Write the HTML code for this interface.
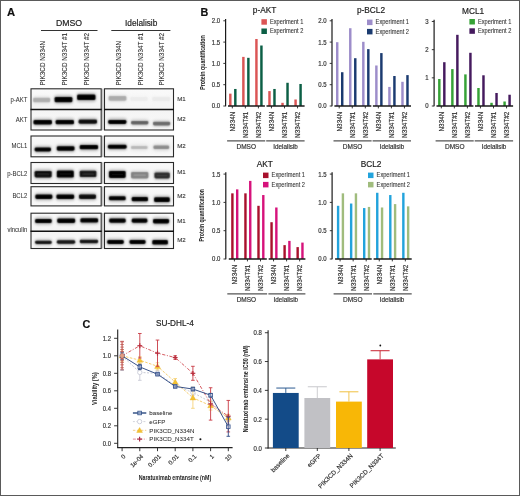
<!DOCTYPE html>
<html><head><meta charset="utf-8"><style>
html,body{margin:0;padding:0;background:#fff;}
#fig{position:relative;width:520px;height:496px;overflow:hidden;}
svg{display:block;will-change:transform;}
text{font-family:"Liberation Sans",sans-serif;}
</style></head><body><div id="fig">
<svg width="520" height="496" viewBox="0 0 520 496" font-family="Liberation Sans, sans-serif">
<defs>
<filter id="blur" x="-20%" y="-50%" width="140%" height="200%"><feConvolveMatrix order="3" kernelMatrix="1 4 1 4 16 4 1 4 1" divisor="36" edgeMode="none"/></filter>
<filter id="blur2" x="-20%" y="-80%" width="140%" height="260%"><feGaussianBlur stdDeviation="1.6"/></filter>
<linearGradient id="bg" x1="0" y1="0" x2="0" y2="1"><stop offset="0" stop-color="#fafafa"/><stop offset="0.5" stop-color="#f4f4f4"/><stop offset="1" stop-color="#f9f9f9"/></linearGradient>
</defs>
<rect x="0" y="0" width="520" height="496" fill="#fff"/>
<text x="6.90" y="15.80" font-size="11.2" text-anchor="start" fill="#111" stroke="#111" stroke-width="0.18" font-weight="bold" >A</text>
<text x="69.00" y="26.10" font-size="8.7" text-anchor="middle" fill="#222" stroke="#222" stroke-width="0.18" >DMSO</text>
<text x="141.20" y="26.00" font-size="8.3" text-anchor="middle" fill="#222" stroke="#222" stroke-width="0.18" >Idelalisib</text>
<line x1="41.00" y1="30.50" x2="97.50" y2="30.50" stroke="#333" stroke-width="1" />
<line x1="111.30" y1="30.50" x2="170.40" y2="30.50" stroke="#333" stroke-width="1" />
<text transform="translate(45.40,85.40) rotate(-90)" font-size="6.35" text-anchor="start" fill="#333" stroke="#333" stroke-width="0.1">PIK3CD N334N</text>
<text transform="translate(67.20,85.40) rotate(-90)" font-size="6.35" text-anchor="start" fill="#333" stroke="#333" stroke-width="0.1">PIK3CD N334T #1</text>
<text transform="translate(88.50,85.40) rotate(-90)" font-size="6.35" text-anchor="start" fill="#333" stroke="#333" stroke-width="0.1">PIK3CD N334T #2</text>
<text transform="translate(120.80,85.40) rotate(-90)" font-size="6.35" text-anchor="start" fill="#333" stroke="#333" stroke-width="0.1">PIK3CD N334N</text>
<text transform="translate(143.10,85.40) rotate(-90)" font-size="6.35" text-anchor="start" fill="#333" stroke="#333" stroke-width="0.1">PIK3CD N334T #1</text>
<text transform="translate(164.20,85.40) rotate(-90)" font-size="6.35" text-anchor="start" fill="#333" stroke="#333" stroke-width="0.1">PIK3CD N334T #2</text>
<rect x="31.00" y="88.80" width="70.20" height="41.20" fill="url(#bg)" stroke="#2a2a2a" stroke-width="1.1"/>
<line x1="30.50" y1="109.50" x2="101.70" y2="109.50" stroke="#111" stroke-width="1.4" />
<rect x="104.50" y="88.80" width="69.00" height="41.20" fill="url(#bg)" stroke="#2a2a2a" stroke-width="1.1"/>
<line x1="104.00" y1="109.50" x2="174.00" y2="109.50" stroke="#111" stroke-width="1.4" />
<line x1="102.90" y1="88.60" x2="102.90" y2="130.20" stroke="#a8a8a8" stroke-width="1.0" />
<rect x="31.00" y="136.00" width="70.20" height="20.80" fill="url(#bg)" stroke="#2a2a2a" stroke-width="1.1"/>
<rect x="104.50" y="136.00" width="69.00" height="20.80" fill="url(#bg)" stroke="#2a2a2a" stroke-width="1.1"/>
<line x1="102.90" y1="135.80" x2="102.90" y2="157.00" stroke="#a8a8a8" stroke-width="1.0" />
<rect x="31.00" y="162.50" width="70.20" height="21.00" fill="url(#bg)" stroke="#2a2a2a" stroke-width="1.1"/>
<rect x="104.50" y="162.50" width="69.00" height="21.00" fill="url(#bg)" stroke="#2a2a2a" stroke-width="1.1"/>
<line x1="102.90" y1="162.30" x2="102.90" y2="183.70" stroke="#a8a8a8" stroke-width="1.0" />
<rect x="31.00" y="186.70" width="70.20" height="19.20" fill="url(#bg)" stroke="#2a2a2a" stroke-width="1.1"/>
<rect x="104.50" y="186.70" width="69.00" height="19.20" fill="url(#bg)" stroke="#2a2a2a" stroke-width="1.1"/>
<line x1="102.90" y1="186.50" x2="102.90" y2="206.10" stroke="#a8a8a8" stroke-width="1.0" />
<rect x="31.00" y="213.20" width="70.20" height="35.30" fill="url(#bg)" stroke="#2a2a2a" stroke-width="1.1"/>
<line x1="30.50" y1="231.20" x2="101.70" y2="231.20" stroke="#111" stroke-width="1.4" />
<rect x="104.50" y="213.20" width="69.00" height="35.30" fill="url(#bg)" stroke="#2a2a2a" stroke-width="1.1"/>
<line x1="104.00" y1="231.20" x2="174.00" y2="231.20" stroke="#111" stroke-width="1.4" />
<line x1="102.90" y1="213.00" x2="102.90" y2="248.70" stroke="#a8a8a8" stroke-width="1.0" />
<text x="27.30" y="102.20" font-size="6.6" text-anchor="end" fill="#333" stroke="#333" stroke-width="0.06" textLength="16.86" lengthAdjust="spacingAndGlyphs" >p-AKT</text>
<text x="27.30" y="122.40" font-size="6.6" text-anchor="end" fill="#333" stroke="#333" stroke-width="0.06" textLength="11.57" lengthAdjust="spacingAndGlyphs" >AKT</text>
<text x="27.30" y="148.40" font-size="6.6" text-anchor="end" fill="#333" stroke="#333" stroke-width="0.06" textLength="15.87" lengthAdjust="spacingAndGlyphs" >MCL1</text>
<text x="27.30" y="176.00" font-size="6.6" text-anchor="end" fill="#333" stroke="#333" stroke-width="0.06" textLength="20.17" lengthAdjust="spacingAndGlyphs" >p-BCL2</text>
<text x="27.30" y="198.40" font-size="6.6" text-anchor="end" fill="#333" stroke="#333" stroke-width="0.06" textLength="14.88" lengthAdjust="spacingAndGlyphs" >BCL2</text>
<text x="27.30" y="232.00" font-size="6.6" text-anchor="end" fill="#333" stroke="#333" stroke-width="0.06" textLength="19.84" lengthAdjust="spacingAndGlyphs" >vinculin</text>
<text x="177.20" y="100.90" font-size="6.1" text-anchor="start" fill="#333" stroke="#333" stroke-width="0.1" >M1</text>
<text x="177.20" y="121.40" font-size="6.1" text-anchor="start" fill="#333" stroke="#333" stroke-width="0.1" >M2</text>
<text x="177.20" y="147.80" font-size="6.1" text-anchor="start" fill="#333" stroke="#333" stroke-width="0.1" >M2</text>
<text x="177.20" y="174.20" font-size="6.1" text-anchor="start" fill="#333" stroke="#333" stroke-width="0.1" >M1</text>
<text x="177.20" y="197.90" font-size="6.1" text-anchor="start" fill="#333" stroke="#333" stroke-width="0.1" >M2</text>
<text x="177.20" y="222.50" font-size="6.1" text-anchor="start" fill="#333" stroke="#333" stroke-width="0.1" >M1</text>
<text x="177.20" y="241.50" font-size="6.1" text-anchor="start" fill="#333" stroke="#333" stroke-width="0.1" >M2</text>
<g filter="url(#blur2)" opacity="0.3">
<rect x="32.80" y="96.40" width="17.70" height="7.20" rx="2" fill="rgb(175,175,175)"/>
<rect x="54.30" y="95.60" width="18.40" height="8.00" rx="2" fill="rgb(0,0,0)"/>
<rect x="76.80" y="93.20" width="19.00" height="8.20" rx="2" fill="rgb(0,0,0)"/>
<rect x="108.30" y="94.80" width="18.40" height="7.20" rx="2" fill="rgb(172,172,172)"/>
<rect x="130.00" y="95.60" width="18.00" height="6.60" rx="2" fill="rgb(236,236,236)"/>
<rect x="152.00" y="95.80" width="18.50" height="6.60" rx="2" fill="rgb(234,234,234)"/>
<rect x="33.10" y="118.80" width="19.20" height="7.00" rx="2" fill="rgb(0,0,0)"/>
<rect x="55.30" y="118.60" width="19.00" height="7.00" rx="2" fill="rgb(5,5,5)"/>
<rect x="78.30" y="118.20" width="19.00" height="6.80" rx="2" fill="rgb(15,15,15)"/>
<rect x="107.90" y="118.60" width="18.80" height="6.60" rx="2" fill="rgb(0,0,0)"/>
<rect x="130.70" y="119.60" width="18.00" height="6.20" rx="2" fill="rgb(100,100,100)"/>
<rect x="152.70" y="120.40" width="17.80" height="6.40" rx="2" fill="rgb(108,108,108)"/>
<rect x="34.30" y="146.20" width="17.00" height="6.50" rx="2" fill="rgb(0,0,0)"/>
<rect x="56.50" y="144.90" width="18.30" height="7.10" rx="2" fill="rgb(0,0,0)"/>
<rect x="79.40" y="143.80" width="19.00" height="6.80" rx="2" fill="rgb(0,0,0)"/>
<rect x="107.60" y="143.50" width="19.30" height="6.50" rx="2" fill="rgb(0,0,0)"/>
<rect x="130.60" y="144.60" width="17.30" height="5.80" rx="2" fill="rgb(185,185,185)"/>
<rect x="153.10" y="144.20" width="16.40" height="6.20" rx="2" fill="rgb(140,140,140)"/>
<rect x="34.30" y="169.60" width="17.70" height="9.20" rx="2" fill="rgb(12,12,12)"/>
<rect x="56.50" y="169.20" width="17.60" height="9.70" rx="2" fill="rgb(0,0,0)"/>
<rect x="79.40" y="169.50" width="17.30" height="8.90" rx="2" fill="rgb(20,20,20)"/>
<rect x="108.60" y="169.70" width="17.40" height="9.50" rx="2" fill="rgb(0,0,0)"/>
<rect x="130.70" y="170.70" width="18.00" height="9.00" rx="2" fill="rgb(130,130,130)"/>
<rect x="154.10" y="171.10" width="16.00" height="8.70" rx="2" fill="rgb(45,45,45)"/>
<rect x="35.00" y="193.20" width="17.70" height="7.00" rx="2" fill="rgb(0,0,0)"/>
<rect x="56.10" y="193.20" width="18.40" height="7.00" rx="2" fill="rgb(5,5,5)"/>
<rect x="78.70" y="193.20" width="17.60" height="7.00" rx="2" fill="rgb(8,8,8)"/>
<rect x="108.60" y="195.00" width="17.40" height="6.60" rx="2" fill="rgb(5,5,5)"/>
<rect x="131.40" y="195.60" width="16.90" height="7.00" rx="2" fill="rgb(0,0,0)"/>
<rect x="153.80" y="196.00" width="16.30" height="7.40" rx="2" fill="rgb(0,0,0)"/>
<rect x="34.80" y="217.60" width="17.20" height="6.80" rx="2" fill="rgb(0,0,0)"/>
<rect x="56.90" y="217.30" width="18.60" height="6.90" rx="2" fill="rgb(0,0,0)"/>
<rect x="80.10" y="216.90" width="18.30" height="7.00" rx="2" fill="rgb(0,0,0)"/>
<rect x="108.90" y="217.20" width="17.10" height="6.80" rx="2" fill="rgb(0,0,0)"/>
<rect x="131.40" y="217.20" width="16.30" height="6.80" rx="2" fill="rgb(0,0,0)"/>
<rect x="152.70" y="217.60" width="16.70" height="7.10" rx="2" fill="rgb(0,0,0)"/>
<rect x="34.80" y="239.40" width="17.20" height="5.90" rx="2" fill="rgb(20,20,20)"/>
<rect x="56.50" y="239.00" width="19.00" height="6.00" rx="2" fill="rgb(22,22,22)"/>
<rect x="79.50" y="238.50" width="18.90" height="6.00" rx="2" fill="rgb(24,24,24)"/>
<rect x="106.90" y="238.80" width="17.20" height="6.50" rx="2" fill="rgb(0,0,0)"/>
<rect x="129.20" y="238.80" width="16.70" height="6.50" rx="2" fill="rgb(0,0,0)"/>
<rect x="152.00" y="238.80" width="16.20" height="7.10" rx="2" fill="rgb(0,0,0)"/>
</g>
<g filter="url(#blur)">
<rect x="33.10" y="97.70" width="17.10" height="4.60" rx="1.6" ry="1.40" fill="rgb(175,175,175)"/>
<rect x="54.60" y="96.90" width="17.80" height="5.40" rx="1.6" ry="1.40" fill="rgb(0,0,0)"/>
<rect x="77.10" y="94.50" width="18.40" height="5.60" rx="1.6" ry="1.40" fill="rgb(0,0,0)"/>
<rect x="108.60" y="96.10" width="17.80" height="4.60" rx="1.6" ry="1.40" fill="rgb(172,172,172)"/>
<rect x="130.30" y="96.90" width="17.40" height="4.00" rx="1.6" ry="1.40" fill="rgb(236,236,236)"/>
<rect x="152.30" y="97.10" width="17.90" height="4.00" rx="1.6" ry="1.40" fill="rgb(234,234,234)"/>
<rect x="33.40" y="120.10" width="18.60" height="4.40" rx="1.6" ry="1.40" fill="rgb(0,0,0)"/>
<rect x="55.60" y="119.90" width="18.40" height="4.40" rx="1.6" ry="1.40" fill="rgb(5,5,5)"/>
<rect x="78.60" y="119.50" width="18.40" height="4.20" rx="1.6" ry="1.40" fill="rgb(15,15,15)"/>
<rect x="108.20" y="119.90" width="18.20" height="4.00" rx="1.6" ry="1.40" fill="rgb(0,0,0)"/>
<rect x="131.00" y="120.90" width="17.40" height="3.60" rx="1.6" ry="1.40" fill="rgb(100,100,100)"/>
<rect x="153.00" y="121.70" width="17.20" height="3.80" rx="1.6" ry="1.40" fill="rgb(108,108,108)"/>
<rect x="34.60" y="147.50" width="16.40" height="3.90" rx="1.6" ry="1.40" fill="rgb(0,0,0)"/>
<rect x="56.80" y="146.20" width="17.70" height="4.50" rx="1.6" ry="1.40" fill="rgb(0,0,0)"/>
<rect x="79.70" y="145.10" width="18.40" height="4.20" rx="1.6" ry="1.40" fill="rgb(0,0,0)"/>
<rect x="107.90" y="144.80" width="18.70" height="3.90" rx="1.6" ry="1.40" fill="rgb(0,0,0)"/>
<rect x="130.90" y="145.90" width="16.70" height="3.20" rx="1.6" ry="1.40" fill="rgb(185,185,185)"/>
<rect x="153.40" y="145.50" width="15.80" height="3.60" rx="1.6" ry="1.40" fill="rgb(140,140,140)"/>
<rect x="34.60" y="170.90" width="17.10" height="6.60" rx="1.6" ry="1.40" fill="rgb(12,12,12)"/>
<rect x="56.80" y="170.50" width="17.00" height="7.10" rx="1.6" ry="1.40" fill="rgb(0,0,0)"/>
<rect x="79.70" y="170.80" width="16.70" height="6.30" rx="1.6" ry="1.40" fill="rgb(20,20,20)"/>
<rect x="108.90" y="171.00" width="16.80" height="6.90" rx="1.6" ry="1.40" fill="rgb(0,0,0)"/>
<rect x="131.00" y="172.00" width="17.40" height="6.40" rx="1.6" ry="1.40" fill="rgb(130,130,130)"/>
<rect x="154.40" y="172.40" width="15.40" height="6.10" rx="1.6" ry="1.40" fill="rgb(45,45,45)"/>
<rect x="35.30" y="194.50" width="17.10" height="4.40" rx="1.6" ry="1.40" fill="rgb(0,0,0)"/>
<rect x="56.40" y="194.50" width="17.80" height="4.40" rx="1.6" ry="1.40" fill="rgb(5,5,5)"/>
<rect x="79.00" y="194.50" width="17.00" height="4.40" rx="1.6" ry="1.40" fill="rgb(8,8,8)"/>
<rect x="108.90" y="196.30" width="16.80" height="4.00" rx="1.6" ry="1.40" fill="rgb(5,5,5)"/>
<rect x="131.70" y="196.90" width="16.30" height="4.40" rx="1.6" ry="1.40" fill="rgb(0,0,0)"/>
<rect x="154.10" y="197.30" width="15.70" height="4.80" rx="1.6" ry="1.40" fill="rgb(0,0,0)"/>
<rect x="35.10" y="218.90" width="16.60" height="4.20" rx="1.6" ry="1.40" fill="rgb(0,0,0)"/>
<rect x="57.20" y="218.60" width="18.00" height="4.30" rx="1.6" ry="1.40" fill="rgb(0,0,0)"/>
<rect x="80.40" y="218.20" width="17.70" height="4.40" rx="1.6" ry="1.40" fill="rgb(0,0,0)"/>
<rect x="109.20" y="218.50" width="16.50" height="4.20" rx="1.6" ry="1.40" fill="rgb(0,0,0)"/>
<rect x="131.70" y="218.50" width="15.70" height="4.20" rx="1.6" ry="1.40" fill="rgb(0,0,0)"/>
<rect x="153.00" y="218.90" width="16.10" height="4.50" rx="1.6" ry="1.40" fill="rgb(0,0,0)"/>
<rect x="35.10" y="240.70" width="16.60" height="3.30" rx="1.6" ry="1.40" fill="rgb(20,20,20)"/>
<rect x="56.80" y="240.30" width="18.40" height="3.40" rx="1.6" ry="1.40" fill="rgb(22,22,22)"/>
<rect x="79.80" y="239.80" width="18.30" height="3.40" rx="1.6" ry="1.40" fill="rgb(24,24,24)"/>
<rect x="107.20" y="240.10" width="16.60" height="3.90" rx="1.6" ry="1.40" fill="rgb(0,0,0)"/>
<rect x="129.50" y="240.10" width="16.10" height="3.90" rx="1.6" ry="1.40" fill="rgb(0,0,0)"/>
<rect x="152.30" y="240.10" width="15.60" height="4.50" rx="1.6" ry="1.40" fill="rgb(0,0,0)"/>
</g>
<g filter="url(#blur)">
<rect x="37.00" y="173.60" width="12.50" height="1.20" rx="1" fill="rgb(42,42,42)"/>
<rect x="59.50" y="173.40" width="12.00" height="1.20" rx="1" fill="rgb(22,22,22)"/>
<rect x="82.00" y="173.50" width="12.30" height="1.20" rx="1" fill="rgb(50,50,50)"/>
<rect x="111.50" y="173.80" width="12.00" height="1.20" rx="1" fill="rgb(14,14,14)"/>
<rect x="133.50" y="174.60" width="12.50" height="1.20" rx="1" fill="rgb(158,158,158)"/>
<rect x="156.50" y="175.00" width="11.00" height="1.20" rx="1" fill="rgb(62,62,62)"/>
</g>
<text x="200.60" y="16.20" font-size="10.8" text-anchor="start" fill="#111" stroke="#111" stroke-width="0.18" font-weight="bold" >B</text>
<line x1="225.60" y1="19.00" x2="225.60" y2="106.30" stroke="#1a1a1a" stroke-width="1.2" />
<line x1="223.30" y1="106.00" x2="225.60" y2="106.00" stroke="#222" stroke-width="0.9" />
<text x="220.20" y="108.40" font-size="6.6" text-anchor="end" fill="#333" stroke="#333" stroke-width="0.18" textLength="8.34" lengthAdjust="spacingAndGlyphs" >0.0</text>
<line x1="223.30" y1="84.70" x2="225.60" y2="84.70" stroke="#222" stroke-width="0.9" />
<text x="220.20" y="87.10" font-size="6.6" text-anchor="end" fill="#333" stroke="#333" stroke-width="0.18" textLength="8.34" lengthAdjust="spacingAndGlyphs" >0.5</text>
<line x1="223.30" y1="63.40" x2="225.60" y2="63.40" stroke="#222" stroke-width="0.9" />
<text x="220.20" y="65.80" font-size="6.6" text-anchor="end" fill="#333" stroke="#333" stroke-width="0.18" textLength="8.34" lengthAdjust="spacingAndGlyphs" >1.0</text>
<line x1="223.30" y1="42.10" x2="225.60" y2="42.10" stroke="#222" stroke-width="0.9" />
<text x="220.20" y="44.50" font-size="6.6" text-anchor="end" fill="#333" stroke="#333" stroke-width="0.18" textLength="8.34" lengthAdjust="spacingAndGlyphs" >1.5</text>
<line x1="223.30" y1="20.80" x2="225.60" y2="20.80" stroke="#222" stroke-width="0.9" />
<text x="220.20" y="23.20" font-size="6.6" text-anchor="end" fill="#333" stroke="#333" stroke-width="0.18" textLength="8.34" lengthAdjust="spacingAndGlyphs" >2.0</text>
<rect x="229.10" y="93.65" width="2.45" height="12.35" fill="#db5555" />
<rect x="234.10" y="88.96" width="2.45" height="17.04" fill="#0c5f45" />
<line x1="232.30" y1="106.00" x2="232.30" y2="108.40" stroke="#222" stroke-width="0.9" />
<text transform="translate(235.00,111.60) rotate(-90)" font-size="6.4" text-anchor="end" fill="#333" stroke="#333" stroke-width="0.18">N334N</text>
<rect x="242.15" y="56.88" width="2.45" height="49.12" fill="#db5555" />
<rect x="247.15" y="57.82" width="2.45" height="48.18" fill="#0c5f45" />
<line x1="245.35" y1="106.00" x2="245.35" y2="108.40" stroke="#222" stroke-width="0.9" />
<text transform="translate(248.05,111.60) rotate(-90)" font-size="6.4" text-anchor="end" fill="#333" stroke="#333" stroke-width="0.18">N334T#1</text>
<rect x="255.20" y="38.99" width="2.45" height="67.01" fill="#db5555" />
<rect x="260.20" y="45.51" width="2.45" height="60.49" fill="#0c5f45" />
<line x1="258.40" y1="106.00" x2="258.40" y2="108.40" stroke="#222" stroke-width="0.9" />
<text transform="translate(261.10,111.60) rotate(-90)" font-size="6.4" text-anchor="end" fill="#333" stroke="#333" stroke-width="0.18">N334T#2</text>
<rect x="268.25" y="91.09" width="2.45" height="14.91" fill="#db5555" />
<rect x="273.25" y="88.96" width="2.45" height="17.04" fill="#0c5f45" />
<line x1="271.45" y1="106.00" x2="271.45" y2="108.40" stroke="#222" stroke-width="0.9" />
<text transform="translate(274.15,111.60) rotate(-90)" font-size="6.4" text-anchor="end" fill="#333" stroke="#333" stroke-width="0.18">N334N</text>
<rect x="281.30" y="102.81" width="2.45" height="3.19" fill="#db5555" />
<rect x="286.30" y="82.78" width="2.45" height="23.22" fill="#0c5f45" />
<line x1="284.50" y1="106.00" x2="284.50" y2="108.40" stroke="#222" stroke-width="0.9" />
<text transform="translate(287.20,111.60) rotate(-90)" font-size="6.4" text-anchor="end" fill="#333" stroke="#333" stroke-width="0.18">N334T#1</text>
<rect x="294.35" y="99.48" width="2.45" height="6.52" fill="#db5555" />
<rect x="299.35" y="83.98" width="2.45" height="22.02" fill="#0c5f45" />
<line x1="297.55" y1="106.00" x2="297.55" y2="108.40" stroke="#222" stroke-width="0.9" />
<text transform="translate(300.25,111.60) rotate(-90)" font-size="6.4" text-anchor="end" fill="#333" stroke="#333" stroke-width="0.18">N334T#2</text>
<line x1="228.00" y1="106.00" x2="264.90" y2="106.00" stroke="#1a1a1a" stroke-width="1.3" />
<line x1="266.50" y1="106.00" x2="304.60" y2="106.00" stroke="#1a1a1a" stroke-width="1.3" />
<line x1="227.10" y1="140.80" x2="265.20" y2="140.80" stroke="#555" stroke-width="1.25" />
<line x1="266.20" y1="140.80" x2="304.60" y2="140.80" stroke="#555" stroke-width="1.25" />
<text x="246.20" y="149.00" font-size="6.5" text-anchor="middle" fill="#333" stroke="#333" stroke-width="0.18" >DMSO</text>
<text x="285.60" y="149.00" font-size="6.3" text-anchor="middle" fill="#333" stroke="#333" stroke-width="0.18" >Idelalisib</text>
<text x="264.60" y="13.40" font-size="8.3" text-anchor="middle" fill="#222" stroke="#222" stroke-width="0.18" >p-AKT</text>
<rect x="261.40" y="19.20" width="5.50" height="5.50" fill="#db5555" />
<text x="270.00" y="23.90" font-size="6.4" text-anchor="start" fill="#333" stroke="#333" stroke-width="0.08" textLength="33.4" lengthAdjust="spacingAndGlyphs" >Experiment 1</text>
<rect x="261.40" y="28.50" width="5.50" height="5.50" fill="#0c5f45" />
<text x="270.00" y="33.20" font-size="6.4" text-anchor="start" fill="#333" stroke="#333" stroke-width="0.08" textLength="33.4" lengthAdjust="spacingAndGlyphs" >Experiment 2</text>
<line x1="332.00" y1="19.00" x2="332.00" y2="106.30" stroke="#1a1a1a" stroke-width="1.2" />
<line x1="329.70" y1="106.00" x2="332.00" y2="106.00" stroke="#222" stroke-width="0.9" />
<text x="326.60" y="108.40" font-size="6.6" text-anchor="end" fill="#333" stroke="#333" stroke-width="0.18" textLength="8.34" lengthAdjust="spacingAndGlyphs" >0.0</text>
<line x1="329.70" y1="84.70" x2="332.00" y2="84.70" stroke="#222" stroke-width="0.9" />
<text x="326.60" y="87.10" font-size="6.6" text-anchor="end" fill="#333" stroke="#333" stroke-width="0.18" textLength="8.34" lengthAdjust="spacingAndGlyphs" >0.5</text>
<line x1="329.70" y1="63.40" x2="332.00" y2="63.40" stroke="#222" stroke-width="0.9" />
<text x="326.60" y="65.80" font-size="6.6" text-anchor="end" fill="#333" stroke="#333" stroke-width="0.18" textLength="8.34" lengthAdjust="spacingAndGlyphs" >1.0</text>
<line x1="329.70" y1="42.10" x2="332.00" y2="42.10" stroke="#222" stroke-width="0.9" />
<text x="326.60" y="44.50" font-size="6.6" text-anchor="end" fill="#333" stroke="#333" stroke-width="0.18" textLength="8.34" lengthAdjust="spacingAndGlyphs" >1.5</text>
<line x1="329.70" y1="20.80" x2="332.00" y2="20.80" stroke="#222" stroke-width="0.9" />
<text x="326.60" y="23.20" font-size="6.6" text-anchor="end" fill="#333" stroke="#333" stroke-width="0.18" textLength="8.34" lengthAdjust="spacingAndGlyphs" >2.0</text>
<rect x="336.00" y="42.19" width="2.45" height="63.81" fill="#9d8dca" />
<rect x="341.00" y="72.22" width="2.45" height="33.78" fill="#1b3b70" />
<line x1="339.20" y1="106.00" x2="339.20" y2="108.40" stroke="#222" stroke-width="0.9" />
<text transform="translate(341.90,111.60) rotate(-90)" font-size="6.4" text-anchor="end" fill="#333" stroke="#333" stroke-width="0.18">N334N</text>
<rect x="349.05" y="28.21" width="2.45" height="77.79" fill="#9d8dca" />
<rect x="354.05" y="58.20" width="2.45" height="47.80" fill="#1b3b70" />
<line x1="352.25" y1="106.00" x2="352.25" y2="108.40" stroke="#222" stroke-width="0.9" />
<text transform="translate(354.95,111.60) rotate(-90)" font-size="6.4" text-anchor="end" fill="#333" stroke="#333" stroke-width="0.18">N334T#1</text>
<rect x="362.10" y="41.80" width="2.45" height="64.20" fill="#9d8dca" />
<rect x="367.10" y="49.13" width="2.45" height="56.87" fill="#1b3b70" />
<line x1="365.30" y1="106.00" x2="365.30" y2="108.40" stroke="#222" stroke-width="0.9" />
<text transform="translate(368.00,111.60) rotate(-90)" font-size="6.4" text-anchor="end" fill="#333" stroke="#333" stroke-width="0.18">N334T#2</text>
<rect x="375.15" y="65.49" width="2.45" height="40.51" fill="#9d8dca" />
<rect x="380.15" y="53.09" width="2.45" height="52.91" fill="#1b3b70" />
<line x1="378.35" y1="106.00" x2="378.35" y2="108.40" stroke="#222" stroke-width="0.9" />
<text transform="translate(381.05,111.60) rotate(-90)" font-size="6.4" text-anchor="end" fill="#333" stroke="#333" stroke-width="0.18">N334N</text>
<rect x="388.20" y="86.92" width="2.45" height="19.08" fill="#9d8dca" />
<rect x="393.20" y="76.01" width="2.45" height="29.99" fill="#1b3b70" />
<line x1="391.40" y1="106.00" x2="391.40" y2="108.40" stroke="#222" stroke-width="0.9" />
<text transform="translate(394.10,111.60) rotate(-90)" font-size="6.4" text-anchor="end" fill="#333" stroke="#333" stroke-width="0.18">N334T#1</text>
<rect x="401.25" y="81.80" width="2.45" height="24.20" fill="#9d8dca" />
<rect x="406.25" y="75.11" width="2.45" height="30.89" fill="#1b3b70" />
<line x1="404.45" y1="106.00" x2="404.45" y2="108.40" stroke="#222" stroke-width="0.9" />
<text transform="translate(407.15,111.60) rotate(-90)" font-size="6.4" text-anchor="end" fill="#333" stroke="#333" stroke-width="0.18">N334T#2</text>
<line x1="334.40" y1="106.00" x2="371.30" y2="106.00" stroke="#1a1a1a" stroke-width="1.3" />
<line x1="372.90" y1="106.00" x2="411.00" y2="106.00" stroke="#1a1a1a" stroke-width="1.3" />
<line x1="333.50" y1="140.80" x2="371.60" y2="140.80" stroke="#555" stroke-width="1.25" />
<line x1="372.60" y1="140.80" x2="411.00" y2="140.80" stroke="#555" stroke-width="1.25" />
<text x="352.60" y="149.00" font-size="6.5" text-anchor="middle" fill="#333" stroke="#333" stroke-width="0.18" >DMSO</text>
<text x="392.00" y="149.00" font-size="6.3" text-anchor="middle" fill="#333" stroke="#333" stroke-width="0.18" >Idelalisib</text>
<text x="371.00" y="13.40" font-size="8.3" text-anchor="middle" fill="#222" stroke="#222" stroke-width="0.18" >p-BCL2</text>
<rect x="367.00" y="19.60" width="5.50" height="5.50" fill="#9d8dca" />
<text x="375.60" y="24.30" font-size="6.4" text-anchor="start" fill="#333" stroke="#333" stroke-width="0.08" textLength="33.4" lengthAdjust="spacingAndGlyphs" >Experiment 1</text>
<rect x="367.00" y="28.90" width="5.50" height="5.50" fill="#1b3b70" />
<text x="375.60" y="33.60" font-size="6.4" text-anchor="start" fill="#333" stroke="#333" stroke-width="0.08" textLength="33.4" lengthAdjust="spacingAndGlyphs" >Experiment 2</text>
<line x1="434.10" y1="19.69" x2="434.10" y2="106.30" stroke="#1a1a1a" stroke-width="1.2" />
<line x1="431.80" y1="106.00" x2="434.10" y2="106.00" stroke="#222" stroke-width="0.9" />
<text x="428.70" y="108.40" font-size="6.6" text-anchor="end" fill="#333" stroke="#333" stroke-width="0.18" textLength="3.34" lengthAdjust="spacingAndGlyphs" >0</text>
<line x1="431.80" y1="77.83" x2="434.10" y2="77.83" stroke="#222" stroke-width="0.9" />
<text x="428.70" y="80.23" font-size="6.6" text-anchor="end" fill="#333" stroke="#333" stroke-width="0.18" textLength="3.34" lengthAdjust="spacingAndGlyphs" >1</text>
<line x1="431.80" y1="49.66" x2="434.10" y2="49.66" stroke="#222" stroke-width="0.9" />
<text x="428.70" y="52.06" font-size="6.6" text-anchor="end" fill="#333" stroke="#333" stroke-width="0.18" textLength="3.34" lengthAdjust="spacingAndGlyphs" >2</text>
<line x1="431.80" y1="21.49" x2="434.10" y2="21.49" stroke="#222" stroke-width="0.9" />
<text x="428.70" y="23.89" font-size="6.6" text-anchor="end" fill="#333" stroke="#333" stroke-width="0.18" textLength="3.34" lengthAdjust="spacingAndGlyphs" >3</text>
<rect x="438.10" y="79.01" width="2.45" height="26.99" fill="#36a236" />
<rect x="443.10" y="62.20" width="2.45" height="43.80" fill="#451a5e" />
<line x1="441.30" y1="106.00" x2="441.30" y2="108.40" stroke="#222" stroke-width="0.9" />
<text transform="translate(444.00,111.60) rotate(-90)" font-size="6.4" text-anchor="end" fill="#333" stroke="#333" stroke-width="0.18">N334N</text>
<rect x="451.15" y="69.10" width="2.45" height="36.90" fill="#36a236" />
<rect x="456.15" y="34.81" width="2.45" height="71.19" fill="#451a5e" />
<line x1="454.35" y1="106.00" x2="454.35" y2="108.40" stroke="#222" stroke-width="0.9" />
<text transform="translate(457.05,111.60) rotate(-90)" font-size="6.4" text-anchor="end" fill="#333" stroke="#333" stroke-width="0.18">N334T#1</text>
<rect x="464.20" y="74.39" width="2.45" height="31.61" fill="#36a236" />
<rect x="469.20" y="52.79" width="2.45" height="53.21" fill="#451a5e" />
<line x1="467.40" y1="106.00" x2="467.40" y2="108.40" stroke="#222" stroke-width="0.9" />
<text transform="translate(470.10,111.60) rotate(-90)" font-size="6.4" text-anchor="end" fill="#333" stroke="#333" stroke-width="0.18">N334T#2</text>
<rect x="477.25" y="88.00" width="2.45" height="18.00" fill="#36a236" />
<rect x="482.25" y="75.29" width="2.45" height="30.71" fill="#451a5e" />
<line x1="480.45" y1="106.00" x2="480.45" y2="108.40" stroke="#222" stroke-width="0.9" />
<text transform="translate(483.15,111.60) rotate(-90)" font-size="6.4" text-anchor="end" fill="#333" stroke="#333" stroke-width="0.18">N334N</text>
<rect x="490.30" y="102.79" width="2.45" height="3.21" fill="#36a236" />
<rect x="495.30" y="92.99" width="2.45" height="13.01" fill="#451a5e" />
<line x1="493.50" y1="106.00" x2="493.50" y2="108.40" stroke="#222" stroke-width="0.9" />
<text transform="translate(496.20,111.60) rotate(-90)" font-size="6.4" text-anchor="end" fill="#333" stroke="#333" stroke-width="0.18">N334T#1</text>
<rect x="503.35" y="101.49" width="2.45" height="4.51" fill="#36a236" />
<rect x="508.35" y="94.73" width="2.45" height="11.27" fill="#451a5e" />
<line x1="506.55" y1="106.00" x2="506.55" y2="108.40" stroke="#222" stroke-width="0.9" />
<text transform="translate(509.25,111.60) rotate(-90)" font-size="6.4" text-anchor="end" fill="#333" stroke="#333" stroke-width="0.18">N334T#2</text>
<line x1="436.50" y1="106.00" x2="473.40" y2="106.00" stroke="#1a1a1a" stroke-width="1.3" />
<line x1="475.00" y1="106.00" x2="513.10" y2="106.00" stroke="#1a1a1a" stroke-width="1.3" />
<line x1="435.60" y1="140.80" x2="473.70" y2="140.80" stroke="#555" stroke-width="1.25" />
<line x1="474.70" y1="140.80" x2="513.10" y2="140.80" stroke="#555" stroke-width="1.25" />
<text x="454.70" y="149.00" font-size="6.5" text-anchor="middle" fill="#333" stroke="#333" stroke-width="0.18" >DMSO</text>
<text x="494.10" y="149.00" font-size="6.3" text-anchor="middle" fill="#333" stroke="#333" stroke-width="0.18" >Idelalisib</text>
<text x="473.10" y="14.09" font-size="8.3" text-anchor="middle" fill="#222" stroke="#222" stroke-width="0.18" >MCL1</text>
<rect x="469.40" y="19.00" width="5.50" height="5.50" fill="#36a236" />
<text x="478.00" y="23.70" font-size="6.4" text-anchor="start" fill="#333" stroke="#333" stroke-width="0.08" textLength="33.4" lengthAdjust="spacingAndGlyphs" >Experiment 1</text>
<rect x="469.40" y="28.30" width="5.50" height="5.50" fill="#451a5e" />
<text x="478.00" y="33.00" font-size="6.4" text-anchor="start" fill="#333" stroke="#333" stroke-width="0.08" textLength="33.4" lengthAdjust="spacingAndGlyphs" >Experiment 2</text>
<line x1="225.80" y1="172.30" x2="225.80" y2="259.30" stroke="#1a1a1a" stroke-width="1.2" />
<line x1="223.50" y1="259.00" x2="225.80" y2="259.00" stroke="#222" stroke-width="0.9" />
<text x="220.40" y="261.40" font-size="6.6" text-anchor="end" fill="#333" stroke="#333" stroke-width="0.18" textLength="8.34" lengthAdjust="spacingAndGlyphs" >0.0</text>
<line x1="223.50" y1="230.70" x2="225.80" y2="230.70" stroke="#222" stroke-width="0.9" />
<text x="220.40" y="233.10" font-size="6.6" text-anchor="end" fill="#333" stroke="#333" stroke-width="0.18" textLength="8.34" lengthAdjust="spacingAndGlyphs" >0.5</text>
<line x1="223.50" y1="202.40" x2="225.80" y2="202.40" stroke="#222" stroke-width="0.9" />
<text x="220.40" y="204.80" font-size="6.6" text-anchor="end" fill="#333" stroke="#333" stroke-width="0.18" textLength="8.34" lengthAdjust="spacingAndGlyphs" >1.0</text>
<line x1="223.50" y1="174.10" x2="225.80" y2="174.10" stroke="#222" stroke-width="0.9" />
<text x="220.40" y="176.50" font-size="6.6" text-anchor="end" fill="#333" stroke="#333" stroke-width="0.18" textLength="8.34" lengthAdjust="spacingAndGlyphs" >1.5</text>
<rect x="231.20" y="193.34" width="2.40" height="65.66" fill="#a8102c" />
<rect x="236.00" y="189.38" width="2.40" height="69.62" fill="#d6127b" />
<line x1="234.40" y1="259.00" x2="234.40" y2="261.40" stroke="#222" stroke-width="0.9" />
<text transform="translate(237.10,264.60) rotate(-90)" font-size="6.4" text-anchor="end" fill="#333" stroke="#333" stroke-width="0.18">N334N</text>
<rect x="244.25" y="193.34" width="2.40" height="65.66" fill="#a8102c" />
<rect x="249.05" y="180.89" width="2.40" height="78.11" fill="#d6127b" />
<line x1="247.45" y1="259.00" x2="247.45" y2="261.40" stroke="#222" stroke-width="0.9" />
<text transform="translate(250.15,264.60) rotate(-90)" font-size="6.4" text-anchor="end" fill="#333" stroke="#333" stroke-width="0.18">N334T#1</text>
<rect x="257.30" y="205.80" width="2.40" height="53.20" fill="#a8102c" />
<rect x="262.10" y="195.04" width="2.40" height="63.96" fill="#d6127b" />
<line x1="260.50" y1="259.00" x2="260.50" y2="261.40" stroke="#222" stroke-width="0.9" />
<text transform="translate(263.20,264.60) rotate(-90)" font-size="6.4" text-anchor="end" fill="#333" stroke="#333" stroke-width="0.18">N334T#2</text>
<rect x="270.35" y="222.21" width="2.40" height="36.79" fill="#a8102c" />
<rect x="275.15" y="207.49" width="2.40" height="51.51" fill="#d6127b" />
<line x1="273.55" y1="259.00" x2="273.55" y2="261.40" stroke="#222" stroke-width="0.9" />
<text transform="translate(276.25,264.60) rotate(-90)" font-size="6.4" text-anchor="end" fill="#333" stroke="#333" stroke-width="0.18">N334N</text>
<rect x="283.40" y="245.13" width="2.40" height="13.87" fill="#a8102c" />
<rect x="288.20" y="240.89" width="2.40" height="18.11" fill="#d6127b" />
<line x1="286.60" y1="259.00" x2="286.60" y2="261.40" stroke="#222" stroke-width="0.9" />
<text transform="translate(289.30,264.60) rotate(-90)" font-size="6.4" text-anchor="end" fill="#333" stroke="#333" stroke-width="0.18">N334T#1</text>
<rect x="296.45" y="247.11" width="2.40" height="11.89" fill="#a8102c" />
<rect x="301.25" y="242.59" width="2.40" height="16.41" fill="#d6127b" />
<line x1="299.65" y1="259.00" x2="299.65" y2="261.40" stroke="#222" stroke-width="0.9" />
<text transform="translate(302.35,264.60) rotate(-90)" font-size="6.4" text-anchor="end" fill="#333" stroke="#333" stroke-width="0.18">N334T#2</text>
<line x1="228.80" y1="259.00" x2="266.80" y2="259.00" stroke="#1a1a1a" stroke-width="1.3" />
<line x1="268.70" y1="259.00" x2="305.40" y2="259.00" stroke="#1a1a1a" stroke-width="1.3" />
<line x1="227.30" y1="293.80" x2="267.10" y2="293.80" stroke="#555" stroke-width="1.25" />
<line x1="268.40" y1="293.80" x2="305.40" y2="293.80" stroke="#555" stroke-width="1.25" />
<text x="246.40" y="302.00" font-size="6.5" text-anchor="middle" fill="#333" stroke="#333" stroke-width="0.18" >DMSO</text>
<text x="285.80" y="302.00" font-size="6.3" text-anchor="middle" fill="#333" stroke="#333" stroke-width="0.18" >Idelalisib</text>
<text x="264.80" y="166.70" font-size="8.3" text-anchor="middle" fill="#222" stroke="#222" stroke-width="0.18" >AKT</text>
<rect x="263.00" y="172.60" width="5.50" height="5.50" fill="#a8102c" />
<text x="271.60" y="177.30" font-size="6.4" text-anchor="start" fill="#333" stroke="#333" stroke-width="0.08" textLength="33.4" lengthAdjust="spacingAndGlyphs" >Experiment 1</text>
<rect x="263.00" y="181.90" width="5.50" height="5.50" fill="#d6127b" />
<text x="271.60" y="186.60" font-size="6.4" text-anchor="start" fill="#333" stroke="#333" stroke-width="0.08" textLength="33.4" lengthAdjust="spacingAndGlyphs" >Experiment 2</text>
<line x1="332.10" y1="172.30" x2="332.10" y2="259.30" stroke="#1a1a1a" stroke-width="1.2" />
<line x1="329.80" y1="259.00" x2="332.10" y2="259.00" stroke="#222" stroke-width="0.9" />
<text x="326.70" y="261.40" font-size="6.6" text-anchor="end" fill="#333" stroke="#333" stroke-width="0.18" textLength="8.34" lengthAdjust="spacingAndGlyphs" >0.0</text>
<line x1="329.80" y1="230.70" x2="332.10" y2="230.70" stroke="#222" stroke-width="0.9" />
<text x="326.70" y="233.10" font-size="6.6" text-anchor="end" fill="#333" stroke="#333" stroke-width="0.18" textLength="8.34" lengthAdjust="spacingAndGlyphs" >0.5</text>
<line x1="329.80" y1="202.40" x2="332.10" y2="202.40" stroke="#222" stroke-width="0.9" />
<text x="326.70" y="204.80" font-size="6.6" text-anchor="end" fill="#333" stroke="#333" stroke-width="0.18" textLength="8.34" lengthAdjust="spacingAndGlyphs" >1.0</text>
<line x1="329.80" y1="174.10" x2="332.10" y2="174.10" stroke="#222" stroke-width="0.9" />
<text x="326.70" y="176.50" font-size="6.6" text-anchor="end" fill="#333" stroke="#333" stroke-width="0.18" textLength="8.34" lengthAdjust="spacingAndGlyphs" >1.5</text>
<rect x="336.90" y="205.80" width="2.40" height="53.20" fill="#22a3dc" />
<rect x="341.70" y="193.34" width="2.40" height="65.66" fill="#a0bc7d" />
<line x1="340.10" y1="259.00" x2="340.10" y2="261.40" stroke="#222" stroke-width="0.9" />
<text transform="translate(342.80,264.60) rotate(-90)" font-size="6.4" text-anchor="end" fill="#333" stroke="#333" stroke-width="0.18">N334N</text>
<rect x="349.95" y="203.53" width="2.40" height="55.47" fill="#22a3dc" />
<rect x="354.75" y="193.34" width="2.40" height="65.66" fill="#a0bc7d" />
<line x1="353.15" y1="259.00" x2="353.15" y2="261.40" stroke="#222" stroke-width="0.9" />
<text transform="translate(355.85,264.60) rotate(-90)" font-size="6.4" text-anchor="end" fill="#333" stroke="#333" stroke-width="0.18">N334T#1</text>
<rect x="363.00" y="208.06" width="2.40" height="50.94" fill="#22a3dc" />
<rect x="367.80" y="206.93" width="2.40" height="52.07" fill="#a0bc7d" />
<line x1="366.20" y1="259.00" x2="366.20" y2="261.40" stroke="#222" stroke-width="0.9" />
<text transform="translate(368.90,264.60) rotate(-90)" font-size="6.4" text-anchor="end" fill="#333" stroke="#333" stroke-width="0.18">N334T#2</text>
<rect x="376.05" y="192.78" width="2.40" height="66.22" fill="#22a3dc" />
<rect x="380.85" y="207.49" width="2.40" height="51.51" fill="#a0bc7d" />
<line x1="379.25" y1="259.00" x2="379.25" y2="261.40" stroke="#222" stroke-width="0.9" />
<text transform="translate(381.95,264.60) rotate(-90)" font-size="6.4" text-anchor="end" fill="#333" stroke="#333" stroke-width="0.18">N334N</text>
<rect x="389.10" y="195.04" width="2.40" height="63.96" fill="#22a3dc" />
<rect x="393.90" y="204.10" width="2.40" height="54.90" fill="#a0bc7d" />
<line x1="392.30" y1="259.00" x2="392.30" y2="261.40" stroke="#222" stroke-width="0.9" />
<text transform="translate(395.00,264.60) rotate(-90)" font-size="6.4" text-anchor="end" fill="#333" stroke="#333" stroke-width="0.18">N334T#1</text>
<rect x="402.15" y="192.78" width="2.40" height="66.22" fill="#22a3dc" />
<rect x="406.95" y="206.36" width="2.40" height="52.64" fill="#a0bc7d" />
<line x1="405.35" y1="259.00" x2="405.35" y2="261.40" stroke="#222" stroke-width="0.9" />
<text transform="translate(408.05,264.60) rotate(-90)" font-size="6.4" text-anchor="end" fill="#333" stroke="#333" stroke-width="0.18">N334T#2</text>
<line x1="335.10" y1="259.00" x2="371.70" y2="259.00" stroke="#1a1a1a" stroke-width="1.3" />
<line x1="373.60" y1="259.00" x2="411.70" y2="259.00" stroke="#1a1a1a" stroke-width="1.3" />
<line x1="333.60" y1="293.80" x2="372.00" y2="293.80" stroke="#555" stroke-width="1.25" />
<line x1="373.30" y1="293.80" x2="411.70" y2="293.80" stroke="#555" stroke-width="1.25" />
<text x="352.70" y="302.00" font-size="6.5" text-anchor="middle" fill="#333" stroke="#333" stroke-width="0.18" >DMSO</text>
<text x="392.10" y="302.00" font-size="6.3" text-anchor="middle" fill="#333" stroke="#333" stroke-width="0.18" >Idelalisib</text>
<text x="371.10" y="166.70" font-size="8.3" text-anchor="middle" fill="#222" stroke="#222" stroke-width="0.18" >BCL2</text>
<rect x="368.00" y="172.60" width="5.50" height="5.50" fill="#22a3dc" />
<text x="376.60" y="177.30" font-size="6.4" text-anchor="start" fill="#333" stroke="#333" stroke-width="0.08" textLength="33.4" lengthAdjust="spacingAndGlyphs" >Experiment 1</text>
<rect x="368.00" y="181.90" width="5.50" height="5.50" fill="#a0bc7d" />
<text x="376.60" y="186.60" font-size="6.4" text-anchor="start" fill="#333" stroke="#333" stroke-width="0.08" textLength="33.4" lengthAdjust="spacingAndGlyphs" >Experiment 2</text>
<text transform="translate(204.90,62.50) rotate(-90)" font-size="7.0" text-anchor="middle" fill="#222" font-weight="bold" textLength="54.5" lengthAdjust="spacingAndGlyphs">Protein quantification</text>
<text transform="translate(204.40,215.30) rotate(-90)" font-size="7.0" text-anchor="middle" fill="#222" font-weight="bold" textLength="52.5" lengthAdjust="spacingAndGlyphs">Protein quantification</text>
<text x="82.40" y="327.50" font-size="10.8" text-anchor="start" fill="#111" stroke="#111" stroke-width="0.18" font-weight="bold" >C</text>
<text x="174.90" y="325.70" font-size="8.2" text-anchor="middle" fill="#222" stroke="#222" stroke-width="0.18" >SU-DHL-4</text>
<line x1="117.70" y1="329.50" x2="117.70" y2="448.10" stroke="#222" stroke-width="1.1" />
<line x1="117.20" y1="447.60" x2="232.60" y2="447.60" stroke="#222" stroke-width="1.1" />
<line x1="114.10" y1="443.30" x2="117.70" y2="443.30" stroke="#222" stroke-width="0.9" />
<text x="110.90" y="445.80" font-size="6.8" text-anchor="end" fill="#333" stroke="#333" stroke-width="0.18" textLength="8.1" lengthAdjust="spacingAndGlyphs" >0.0</text>
<line x1="114.10" y1="425.80" x2="117.70" y2="425.80" stroke="#222" stroke-width="0.9" />
<text x="110.90" y="428.30" font-size="6.8" text-anchor="end" fill="#333" stroke="#333" stroke-width="0.18" textLength="8.1" lengthAdjust="spacingAndGlyphs" >0.2</text>
<line x1="114.10" y1="408.30" x2="117.70" y2="408.30" stroke="#222" stroke-width="0.9" />
<text x="110.90" y="410.80" font-size="6.8" text-anchor="end" fill="#333" stroke="#333" stroke-width="0.18" textLength="8.1" lengthAdjust="spacingAndGlyphs" >0.4</text>
<line x1="114.10" y1="390.80" x2="117.70" y2="390.80" stroke="#222" stroke-width="0.9" />
<text x="110.90" y="393.30" font-size="6.8" text-anchor="end" fill="#333" stroke="#333" stroke-width="0.18" textLength="8.1" lengthAdjust="spacingAndGlyphs" >0.6</text>
<line x1="114.10" y1="373.30" x2="117.70" y2="373.30" stroke="#222" stroke-width="0.9" />
<text x="110.90" y="375.80" font-size="6.8" text-anchor="end" fill="#333" stroke="#333" stroke-width="0.18" textLength="8.1" lengthAdjust="spacingAndGlyphs" >0.8</text>
<line x1="114.10" y1="355.80" x2="117.70" y2="355.80" stroke="#222" stroke-width="0.9" />
<text x="110.90" y="358.30" font-size="6.8" text-anchor="end" fill="#333" stroke="#333" stroke-width="0.18" textLength="8.1" lengthAdjust="spacingAndGlyphs" >1.0</text>
<line x1="114.10" y1="338.30" x2="117.70" y2="338.30" stroke="#222" stroke-width="0.9" />
<text x="110.90" y="340.80" font-size="6.8" text-anchor="end" fill="#333" stroke="#333" stroke-width="0.18" textLength="8.1" lengthAdjust="spacingAndGlyphs" >1.2</text>
<line x1="122.10" y1="447.60" x2="122.10" y2="451.20" stroke="#222" stroke-width="0.9" />
<text transform="translate(126.00,456.80) rotate(-45)" font-size="6.1" text-anchor="end" fill="#333" stroke="#333" stroke-width="0.18">0</text>
<line x1="139.80" y1="447.60" x2="139.80" y2="451.20" stroke="#222" stroke-width="0.9" />
<text transform="translate(143.70,456.80) rotate(-45)" font-size="6.1" text-anchor="end" fill="#333" stroke="#333" stroke-width="0.18">1e-04</text>
<line x1="157.50" y1="447.60" x2="157.50" y2="451.20" stroke="#222" stroke-width="0.9" />
<text transform="translate(161.40,456.80) rotate(-45)" font-size="6.1" text-anchor="end" fill="#333" stroke="#333" stroke-width="0.18">0.001</text>
<line x1="175.20" y1="447.60" x2="175.20" y2="451.20" stroke="#222" stroke-width="0.9" />
<text transform="translate(179.10,456.80) rotate(-45)" font-size="6.1" text-anchor="end" fill="#333" stroke="#333" stroke-width="0.18">0.01</text>
<line x1="192.90" y1="447.60" x2="192.90" y2="451.20" stroke="#222" stroke-width="0.9" />
<text transform="translate(196.80,456.80) rotate(-45)" font-size="6.1" text-anchor="end" fill="#333" stroke="#333" stroke-width="0.18">0.1</text>
<line x1="210.60" y1="447.60" x2="210.60" y2="451.20" stroke="#222" stroke-width="0.9" />
<text transform="translate(214.50,456.80) rotate(-45)" font-size="6.1" text-anchor="end" fill="#333" stroke="#333" stroke-width="0.18">1</text>
<line x1="228.30" y1="447.60" x2="228.30" y2="451.20" stroke="#222" stroke-width="0.9" />
<text transform="translate(232.20,456.80) rotate(-45)" font-size="6.1" text-anchor="end" fill="#333" stroke="#333" stroke-width="0.18">10</text>
<text x="175.00" y="480.20" font-size="7.8" text-anchor="middle" fill="#222" font-weight="bold" textLength="72.5" lengthAdjust="spacingAndGlyphs" >Naratuximab emtansine (nM)</text>
<text transform="translate(97.40,388.60) rotate(-90)" font-size="7.8" text-anchor="middle" fill="#222" font-weight="bold" textLength="32.7" lengthAdjust="spacingAndGlyphs">Viability (%)</text>
<polyline points="122.10,355.80 139.80,372.43 157.50,373.30 175.20,385.55 192.90,392.55 210.60,402.18 228.30,418.80" fill="none" stroke="#c9cbd6" stroke-width="1.0" stroke-dasharray="2,1.5"/>
<line x1="122.10" y1="351.43" x2="122.10" y2="360.18" stroke="#c9cbd6" stroke-width="0.9" />
<line x1="120.30" y1="351.43" x2="123.90" y2="351.43" stroke="#c9cbd6" stroke-width="0.9" />
<line x1="120.30" y1="360.18" x2="123.90" y2="360.18" stroke="#c9cbd6" stroke-width="0.9" />
<line x1="139.80" y1="364.55" x2="139.80" y2="380.30" stroke="#c9cbd6" stroke-width="0.9" />
<line x1="138.00" y1="364.55" x2="141.60" y2="364.55" stroke="#c9cbd6" stroke-width="0.9" />
<line x1="138.00" y1="380.30" x2="141.60" y2="380.30" stroke="#c9cbd6" stroke-width="0.9" />
<line x1="157.50" y1="370.68" x2="157.50" y2="375.93" stroke="#c9cbd6" stroke-width="0.9" />
<line x1="155.70" y1="370.68" x2="159.30" y2="370.68" stroke="#c9cbd6" stroke-width="0.9" />
<line x1="155.70" y1="375.93" x2="159.30" y2="375.93" stroke="#c9cbd6" stroke-width="0.9" />
<line x1="175.20" y1="382.93" x2="175.20" y2="388.18" stroke="#c9cbd6" stroke-width="0.9" />
<line x1="173.40" y1="382.93" x2="177.00" y2="382.93" stroke="#c9cbd6" stroke-width="0.9" />
<line x1="173.40" y1="388.18" x2="177.00" y2="388.18" stroke="#c9cbd6" stroke-width="0.9" />
<line x1="192.90" y1="389.93" x2="192.90" y2="395.18" stroke="#c9cbd6" stroke-width="0.9" />
<line x1="191.10" y1="389.93" x2="194.70" y2="389.93" stroke="#c9cbd6" stroke-width="0.9" />
<line x1="191.10" y1="395.18" x2="194.70" y2="395.18" stroke="#c9cbd6" stroke-width="0.9" />
<line x1="210.60" y1="397.80" x2="210.60" y2="406.55" stroke="#c9cbd6" stroke-width="0.9" />
<line x1="208.80" y1="397.80" x2="212.40" y2="397.80" stroke="#c9cbd6" stroke-width="0.9" />
<line x1="208.80" y1="406.55" x2="212.40" y2="406.55" stroke="#c9cbd6" stroke-width="0.9" />
<line x1="228.30" y1="414.43" x2="228.30" y2="423.18" stroke="#c9cbd6" stroke-width="0.9" />
<line x1="226.50" y1="414.43" x2="230.10" y2="414.43" stroke="#c9cbd6" stroke-width="0.9" />
<line x1="226.50" y1="423.18" x2="230.10" y2="423.18" stroke="#c9cbd6" stroke-width="0.9" />
<circle cx="122.10" cy="355.80" r="2.2" fill="#fff" stroke="#c4c6d4" stroke-width="0.8"/>
<circle cx="139.80" cy="372.43" r="2.2" fill="#fff" stroke="#c4c6d4" stroke-width="0.8"/>
<circle cx="157.50" cy="373.30" r="2.2" fill="#fff" stroke="#c4c6d4" stroke-width="0.8"/>
<circle cx="175.20" cy="385.55" r="2.2" fill="#fff" stroke="#c4c6d4" stroke-width="0.8"/>
<circle cx="192.90" cy="392.55" r="2.2" fill="#fff" stroke="#c4c6d4" stroke-width="0.8"/>
<circle cx="210.60" cy="402.18" r="2.2" fill="#fff" stroke="#c4c6d4" stroke-width="0.8"/>
<circle cx="228.30" cy="418.80" r="2.2" fill="#fff" stroke="#c4c6d4" stroke-width="0.8"/>
<polyline points="122.10,355.80 139.80,360.18 157.50,366.30 175.20,382.05 192.90,397.80 210.60,405.68 228.30,417.93" fill="none" stroke="#f6cf70" stroke-width="1.0" stroke-dasharray="2.5,1.5"/>
<line x1="122.10" y1="349.68" x2="122.10" y2="361.93" stroke="#f6d47a" stroke-width="0.9" />
<line x1="120.30" y1="349.68" x2="123.90" y2="349.68" stroke="#f6d47a" stroke-width="0.9" />
<line x1="120.30" y1="361.93" x2="123.90" y2="361.93" stroke="#f6d47a" stroke-width="0.9" />
<line x1="139.80" y1="356.68" x2="139.80" y2="363.68" stroke="#f6d47a" stroke-width="0.9" />
<line x1="138.00" y1="356.68" x2="141.60" y2="356.68" stroke="#f6d47a" stroke-width="0.9" />
<line x1="138.00" y1="363.68" x2="141.60" y2="363.68" stroke="#f6d47a" stroke-width="0.9" />
<line x1="157.50" y1="362.80" x2="157.50" y2="369.80" stroke="#f6d47a" stroke-width="0.9" />
<line x1="155.70" y1="362.80" x2="159.30" y2="362.80" stroke="#f6d47a" stroke-width="0.9" />
<line x1="155.70" y1="369.80" x2="159.30" y2="369.80" stroke="#f6d47a" stroke-width="0.9" />
<line x1="175.20" y1="378.55" x2="175.20" y2="385.55" stroke="#f6d47a" stroke-width="0.9" />
<line x1="173.40" y1="378.55" x2="177.00" y2="378.55" stroke="#f6d47a" stroke-width="0.9" />
<line x1="173.40" y1="385.55" x2="177.00" y2="385.55" stroke="#f6d47a" stroke-width="0.9" />
<line x1="192.90" y1="387.30" x2="192.90" y2="408.30" stroke="#f6d47a" stroke-width="0.9" />
<line x1="191.10" y1="387.30" x2="194.70" y2="387.30" stroke="#f6d47a" stroke-width="0.9" />
<line x1="191.10" y1="408.30" x2="194.70" y2="408.30" stroke="#f6d47a" stroke-width="0.9" />
<line x1="210.60" y1="401.30" x2="210.60" y2="410.05" stroke="#f6d47a" stroke-width="0.9" />
<line x1="208.80" y1="401.30" x2="212.40" y2="401.30" stroke="#f6d47a" stroke-width="0.9" />
<line x1="208.80" y1="410.05" x2="212.40" y2="410.05" stroke="#f6d47a" stroke-width="0.9" />
<line x1="228.30" y1="414.43" x2="228.30" y2="421.43" stroke="#f6d47a" stroke-width="0.9" />
<line x1="226.50" y1="414.43" x2="230.10" y2="414.43" stroke="#f6d47a" stroke-width="0.9" />
<line x1="226.50" y1="421.43" x2="230.10" y2="421.43" stroke="#f6d47a" stroke-width="0.9" />
<path d="M122.10,353.00 L125.00,357.90 L119.20,357.90 Z" fill="#f3c234" stroke="#e8b020" stroke-width="0.4"/>
<path d="M139.80,357.38 L142.70,362.28 L136.90,362.28 Z" fill="#f3c234" stroke="#e8b020" stroke-width="0.4"/>
<path d="M157.50,363.50 L160.40,368.40 L154.60,368.40 Z" fill="#f3c234" stroke="#e8b020" stroke-width="0.4"/>
<path d="M175.20,379.25 L178.10,384.15 L172.30,384.15 Z" fill="#f3c234" stroke="#e8b020" stroke-width="0.4"/>
<path d="M192.90,395.00 L195.80,399.90 L190.00,399.90 Z" fill="#f3c234" stroke="#e8b020" stroke-width="0.4"/>
<path d="M210.60,402.88 L213.50,407.78 L207.70,407.78 Z" fill="#f3c234" stroke="#e8b020" stroke-width="0.4"/>
<path d="M228.30,415.12 L231.20,420.03 L225.40,420.03 Z" fill="#f3c234" stroke="#e8b020" stroke-width="0.4"/>
<polyline points="122.10,355.80 139.80,345.74 157.50,353.18 175.20,357.55 192.90,373.30 210.60,403.93 228.30,416.18" fill="none" stroke="#d65a60" stroke-width="1.0" stroke-dasharray="3.2,1.6,1,1.6"/>
<line x1="122.10" y1="341.80" x2="122.10" y2="369.80" stroke="#c83a44" stroke-width="0.9" />
<line x1="120.30" y1="341.80" x2="123.90" y2="341.80" stroke="#c83a44" stroke-width="0.9" />
<line x1="120.30" y1="369.80" x2="123.90" y2="369.80" stroke="#c83a44" stroke-width="0.9" />
<line x1="139.80" y1="333.49" x2="139.80" y2="357.99" stroke="#c83a44" stroke-width="0.9" />
<line x1="138.00" y1="333.49" x2="141.60" y2="333.49" stroke="#c83a44" stroke-width="0.9" />
<line x1="138.00" y1="357.99" x2="141.60" y2="357.99" stroke="#c83a44" stroke-width="0.9" />
<line x1="157.50" y1="340.05" x2="157.50" y2="366.30" stroke="#c83a44" stroke-width="0.9" />
<line x1="155.70" y1="340.05" x2="159.30" y2="340.05" stroke="#c83a44" stroke-width="0.9" />
<line x1="155.70" y1="366.30" x2="159.30" y2="366.30" stroke="#c83a44" stroke-width="0.9" />
<line x1="175.20" y1="355.80" x2="175.20" y2="359.30" stroke="#c83a44" stroke-width="0.9" />
<line x1="173.40" y1="355.80" x2="177.00" y2="355.80" stroke="#c83a44" stroke-width="0.9" />
<line x1="173.40" y1="359.30" x2="177.00" y2="359.30" stroke="#c83a44" stroke-width="0.9" />
<line x1="192.90" y1="366.30" x2="192.90" y2="380.30" stroke="#c83a44" stroke-width="0.9" />
<line x1="191.10" y1="366.30" x2="194.70" y2="366.30" stroke="#c83a44" stroke-width="0.9" />
<line x1="191.10" y1="380.30" x2="194.70" y2="380.30" stroke="#c83a44" stroke-width="0.9" />
<line x1="210.60" y1="387.74" x2="210.60" y2="420.11" stroke="#c83a44" stroke-width="0.9" />
<line x1="208.80" y1="387.74" x2="212.40" y2="387.74" stroke="#c83a44" stroke-width="0.9" />
<line x1="208.80" y1="420.11" x2="212.40" y2="420.11" stroke="#c83a44" stroke-width="0.9" />
<line x1="228.30" y1="400.43" x2="228.30" y2="431.93" stroke="#c83a44" stroke-width="0.9" />
<line x1="226.50" y1="400.43" x2="230.10" y2="400.43" stroke="#c83a44" stroke-width="0.9" />
<line x1="226.50" y1="431.93" x2="230.10" y2="431.93" stroke="#c83a44" stroke-width="0.9" />
<line x1="119.70" y1="355.80" x2="124.50" y2="355.80" stroke="#b82c3c" stroke-width="1.2" />
<line x1="122.10" y1="353.40" x2="122.10" y2="358.20" stroke="#b82c3c" stroke-width="1.2" />
<line x1="137.40" y1="345.74" x2="142.20" y2="345.74" stroke="#b82c3c" stroke-width="1.2" />
<line x1="139.80" y1="343.34" x2="139.80" y2="348.14" stroke="#b82c3c" stroke-width="1.2" />
<line x1="155.10" y1="353.18" x2="159.90" y2="353.18" stroke="#b82c3c" stroke-width="1.2" />
<line x1="157.50" y1="350.78" x2="157.50" y2="355.57" stroke="#b82c3c" stroke-width="1.2" />
<line x1="172.80" y1="357.55" x2="177.60" y2="357.55" stroke="#b82c3c" stroke-width="1.2" />
<line x1="175.20" y1="355.15" x2="175.20" y2="359.95" stroke="#b82c3c" stroke-width="1.2" />
<line x1="190.50" y1="373.30" x2="195.30" y2="373.30" stroke="#b82c3c" stroke-width="1.2" />
<line x1="192.90" y1="370.90" x2="192.90" y2="375.70" stroke="#b82c3c" stroke-width="1.2" />
<line x1="208.20" y1="403.93" x2="213.00" y2="403.93" stroke="#b82c3c" stroke-width="1.2" />
<line x1="210.60" y1="401.53" x2="210.60" y2="406.32" stroke="#b82c3c" stroke-width="1.2" />
<line x1="225.90" y1="416.18" x2="230.70" y2="416.18" stroke="#b82c3c" stroke-width="1.2" />
<line x1="228.30" y1="413.78" x2="228.30" y2="418.57" stroke="#b82c3c" stroke-width="1.2" />
<polyline points="122.10,355.80 139.80,366.91 157.50,374.18 175.20,386.43 192.90,389.05 210.60,395.18 228.30,426.68" fill="none" stroke="#2e4a84" stroke-width="0.95" stroke-dasharray="none"/>
<line x1="122.10" y1="352.30" x2="122.10" y2="359.30" stroke="#2e4a84" stroke-width="0.9" />
<line x1="120.30" y1="352.30" x2="123.90" y2="352.30" stroke="#2e4a84" stroke-width="0.9" />
<line x1="120.30" y1="359.30" x2="123.90" y2="359.30" stroke="#2e4a84" stroke-width="0.9" />
<line x1="139.80" y1="364.29" x2="139.80" y2="369.54" stroke="#2e4a84" stroke-width="0.9" />
<line x1="138.00" y1="364.29" x2="141.60" y2="364.29" stroke="#2e4a84" stroke-width="0.9" />
<line x1="138.00" y1="369.54" x2="141.60" y2="369.54" stroke="#2e4a84" stroke-width="0.9" />
<line x1="157.50" y1="373.30" x2="157.50" y2="375.05" stroke="#2e4a84" stroke-width="0.9" />
<line x1="155.70" y1="373.30" x2="159.30" y2="373.30" stroke="#2e4a84" stroke-width="0.9" />
<line x1="155.70" y1="375.05" x2="159.30" y2="375.05" stroke="#2e4a84" stroke-width="0.9" />
<line x1="175.20" y1="385.55" x2="175.20" y2="387.30" stroke="#2e4a84" stroke-width="0.9" />
<line x1="173.40" y1="385.55" x2="177.00" y2="385.55" stroke="#2e4a84" stroke-width="0.9" />
<line x1="173.40" y1="387.30" x2="177.00" y2="387.30" stroke="#2e4a84" stroke-width="0.9" />
<line x1="192.90" y1="387.30" x2="192.90" y2="390.80" stroke="#2e4a84" stroke-width="0.9" />
<line x1="191.10" y1="387.30" x2="194.70" y2="387.30" stroke="#2e4a84" stroke-width="0.9" />
<line x1="191.10" y1="390.80" x2="194.70" y2="390.80" stroke="#2e4a84" stroke-width="0.9" />
<line x1="210.60" y1="393.43" x2="210.60" y2="396.93" stroke="#2e4a84" stroke-width="0.9" />
<line x1="208.80" y1="393.43" x2="212.40" y2="393.43" stroke="#2e4a84" stroke-width="0.9" />
<line x1="208.80" y1="396.93" x2="212.40" y2="396.93" stroke="#2e4a84" stroke-width="0.9" />
<line x1="228.30" y1="417.05" x2="228.30" y2="436.30" stroke="#2e4a84" stroke-width="0.9" />
<line x1="226.50" y1="417.05" x2="230.10" y2="417.05" stroke="#2e4a84" stroke-width="0.9" />
<line x1="226.50" y1="436.30" x2="230.10" y2="436.30" stroke="#2e4a84" stroke-width="0.9" />
<rect x="120.30" y="354.00" width="3.6" height="3.6" fill="#b4c0dc" fill-opacity="0.55" stroke="#34508a" stroke-width="0.8"/>
<rect x="138.00" y="365.11" width="3.6" height="3.6" fill="#b4c0dc" fill-opacity="0.55" stroke="#34508a" stroke-width="0.8"/>
<rect x="155.70" y="372.38" width="3.6" height="3.6" fill="#b4c0dc" fill-opacity="0.55" stroke="#34508a" stroke-width="0.8"/>
<rect x="173.40" y="384.62" width="3.6" height="3.6" fill="#b4c0dc" fill-opacity="0.55" stroke="#34508a" stroke-width="0.8"/>
<rect x="191.10" y="387.25" width="3.6" height="3.6" fill="#b4c0dc" fill-opacity="0.55" stroke="#34508a" stroke-width="0.8"/>
<rect x="208.80" y="393.38" width="3.6" height="3.6" fill="#b4c0dc" fill-opacity="0.55" stroke="#34508a" stroke-width="0.8"/>
<rect x="226.50" y="424.88" width="3.6" height="3.6" fill="#b4c0dc" fill-opacity="0.55" stroke="#34508a" stroke-width="0.8"/>
<line x1="122.10" y1="341.30" x2="122.10" y2="370.10" stroke="#d08070" stroke-width="0.9" />
<line x1="120.40" y1="341.30" x2="123.80" y2="341.30" stroke="#c0605a" stroke-width="0.9" />
<line x1="120.40" y1="344.50" x2="123.80" y2="344.50" stroke="#c0605a" stroke-width="0.9" />
<line x1="120.40" y1="347.10" x2="123.80" y2="347.10" stroke="#c0605a" stroke-width="0.9" />
<line x1="120.40" y1="349.50" x2="123.80" y2="349.50" stroke="#c0605a" stroke-width="0.9" />
<line x1="120.40" y1="351.50" x2="123.80" y2="351.50" stroke="#c0605a" stroke-width="0.9" />
<line x1="120.40" y1="358.40" x2="123.80" y2="358.40" stroke="#c0605a" stroke-width="0.9" />
<line x1="120.40" y1="360.40" x2="123.80" y2="360.40" stroke="#c0605a" stroke-width="0.9" />
<line x1="120.40" y1="362.40" x2="123.80" y2="362.40" stroke="#c0605a" stroke-width="0.9" />
<line x1="120.40" y1="364.80" x2="123.80" y2="364.80" stroke="#c0605a" stroke-width="0.9" />
<line x1="120.40" y1="367.70" x2="123.80" y2="367.70" stroke="#c0605a" stroke-width="0.9" />
<line x1="120.40" y1="370.10" x2="123.80" y2="370.10" stroke="#8a96a8" stroke-width="0.9" />
<circle cx="122.10" cy="355.80" r="2.2" fill="#e8a080" opacity="0.9"/>
<line x1="132.9" y1="413.00" x2="146.3" y2="413.00" stroke="#2a4a80" stroke-width="1.4" stroke-dasharray="none"/>
<rect x="137.80" y="411.20" width="3.6" height="3.6" fill="#a9b9da" fill-opacity="0.55" stroke="#2f4f88" stroke-width="0.8"/>
<text x="149.30" y="415.20" font-size="6.2" text-anchor="start" fill="#2a2a2a" stroke="#2a2a2a" stroke-width="0.04" >baseline</text>
<line x1="132.9" y1="421.60" x2="146.3" y2="421.60" stroke="#d4d6dc" stroke-width="1.0" stroke-dasharray="2,1.5"/>
<circle cx="139.60" cy="421.60" r="2.2" fill="#fff" stroke="#c4c6d4" stroke-width="0.8"/>
<text x="149.30" y="423.80" font-size="6.2" text-anchor="start" fill="#2a2a2a" stroke="#2a2a2a" stroke-width="0.04" >eGFP</text>
<line x1="132.9" y1="430.30" x2="146.3" y2="430.30" stroke="#f5cd8a" stroke-width="1.0" stroke-dasharray="2.5,1.5"/>
<path d="M139.60,427.50 L142.50,432.40 L136.70,432.40 Z" fill="#f3c234" stroke="#e8b020" stroke-width="0.4"/>
<text x="149.30" y="432.50" font-size="6.2" text-anchor="start" fill="#2a2a2a" stroke="#2a2a2a" stroke-width="0.04" >PIK3CD_N334N</text>
<line x1="132.9" y1="439.10" x2="146.3" y2="439.10" stroke="#e08898" stroke-width="1.0" stroke-dasharray="3,1.3,1,1.3"/>
<line x1="137.20" y1="439.10" x2="142.00" y2="439.10" stroke="#a8304a" stroke-width="1.2" />
<line x1="139.60" y1="436.70" x2="139.60" y2="441.50" stroke="#a8304a" stroke-width="1.2" />
<text x="149.30" y="441.30" font-size="6.2" text-anchor="start" fill="#2a2a2a" stroke="#2a2a2a" stroke-width="0.04" >PIK3CD_N334T</text>
<circle cx="200.4" cy="439.3" r="1.05" fill="#111"/>
<line x1="268.10" y1="330.20" x2="268.10" y2="448.40" stroke="#222" stroke-width="1.1" />
<line x1="267.60" y1="448.00" x2="395.80" y2="448.00" stroke="#222" stroke-width="1.1" />
<line x1="264.90" y1="448.00" x2="268.10" y2="448.00" stroke="#222" stroke-width="0.9" />
<text x="261.90" y="450.50" font-size="6.8" text-anchor="end" fill="#333" stroke="#333" stroke-width="0.18" textLength="8.3" lengthAdjust="spacingAndGlyphs" >0.0</text>
<line x1="264.90" y1="419.18" x2="268.10" y2="419.18" stroke="#222" stroke-width="0.9" />
<text x="261.90" y="421.68" font-size="6.8" text-anchor="end" fill="#333" stroke="#333" stroke-width="0.18" textLength="8.3" lengthAdjust="spacingAndGlyphs" >0.2</text>
<line x1="264.90" y1="390.36" x2="268.10" y2="390.36" stroke="#222" stroke-width="0.9" />
<text x="261.90" y="392.86" font-size="6.8" text-anchor="end" fill="#333" stroke="#333" stroke-width="0.18" textLength="8.3" lengthAdjust="spacingAndGlyphs" >0.4</text>
<line x1="264.90" y1="361.54" x2="268.10" y2="361.54" stroke="#222" stroke-width="0.9" />
<text x="261.90" y="364.04" font-size="6.8" text-anchor="end" fill="#333" stroke="#333" stroke-width="0.18" textLength="8.3" lengthAdjust="spacingAndGlyphs" >0.6</text>
<line x1="264.90" y1="332.72" x2="268.10" y2="332.72" stroke="#222" stroke-width="0.9" />
<text x="261.90" y="335.22" font-size="6.8" text-anchor="end" fill="#333" stroke="#333" stroke-width="0.18" textLength="8.3" lengthAdjust="spacingAndGlyphs" >0.8</text>
<text transform="translate(247.50,388.80) rotate(-90)" font-size="7.8" text-anchor="middle" fill="#222" font-weight="bold" textLength="86.7" lengthAdjust="spacingAndGlyphs">Naratuximab emtansine IC50 (nM)</text>
<rect x="272.90" y="392.95" width="25.80" height="55.05" fill="#134b88" />
<line x1="285.80" y1="392.95" x2="285.80" y2="388.05" stroke="#2a5a90" stroke-width="0.9" />
<line x1="276.30" y1="388.05" x2="295.30" y2="388.05" stroke="#2a5a90" stroke-width="1.0" />
<line x1="285.80" y1="448.00" x2="285.80" y2="451.00" stroke="#222" stroke-width="0.9" />
<text transform="translate(290.00,456.20) rotate(-45)" font-size="6.3" text-anchor="end" fill="#333" stroke="#333" stroke-width="0.18">baseline</text>
<rect x="304.40" y="398.00" width="25.80" height="50.00" fill="#c1c1c5" />
<line x1="317.30" y1="398.00" x2="317.30" y2="386.76" stroke="#c8c8cc" stroke-width="0.9" />
<line x1="307.80" y1="386.76" x2="326.80" y2="386.76" stroke="#c8c8cc" stroke-width="1.0" />
<line x1="317.30" y1="448.00" x2="317.30" y2="451.00" stroke="#222" stroke-width="0.9" />
<text transform="translate(321.50,456.20) rotate(-45)" font-size="6.3" text-anchor="end" fill="#333" stroke="#333" stroke-width="0.18">eGFP</text>
<rect x="336.00" y="401.60" width="25.80" height="46.40" fill="#f8b706" />
<line x1="348.90" y1="401.60" x2="348.90" y2="391.80" stroke="#f0c040" stroke-width="0.9" />
<line x1="339.40" y1="391.80" x2="358.40" y2="391.80" stroke="#f0c040" stroke-width="1.0" />
<line x1="348.90" y1="448.00" x2="348.90" y2="451.00" stroke="#222" stroke-width="0.9" />
<text transform="translate(353.10,456.20) rotate(-45)" font-size="6.3" text-anchor="end" fill="#333" stroke="#333" stroke-width="0.18">PIK3CD_N334N</text>
<rect x="367.20" y="359.38" width="25.80" height="88.62" fill="#c6072b" />
<line x1="380.10" y1="359.38" x2="380.10" y2="350.73" stroke="#c8202f" stroke-width="0.9" />
<line x1="370.60" y1="350.73" x2="389.60" y2="350.73" stroke="#c8202f" stroke-width="1.0" />
<line x1="380.10" y1="448.00" x2="380.10" y2="451.00" stroke="#222" stroke-width="0.9" />
<text transform="translate(384.30,456.20) rotate(-45)" font-size="6.3" text-anchor="end" fill="#333" stroke="#333" stroke-width="0.18">PIK3CD_N334T</text>
<circle cx="380.3" cy="345.5" r="0.9" fill="#111"/>
<rect x="0.5" y="0.5" width="519" height="495" fill="none" stroke="#5a5a5a" stroke-width="1"/>
</svg></div></body></html>
